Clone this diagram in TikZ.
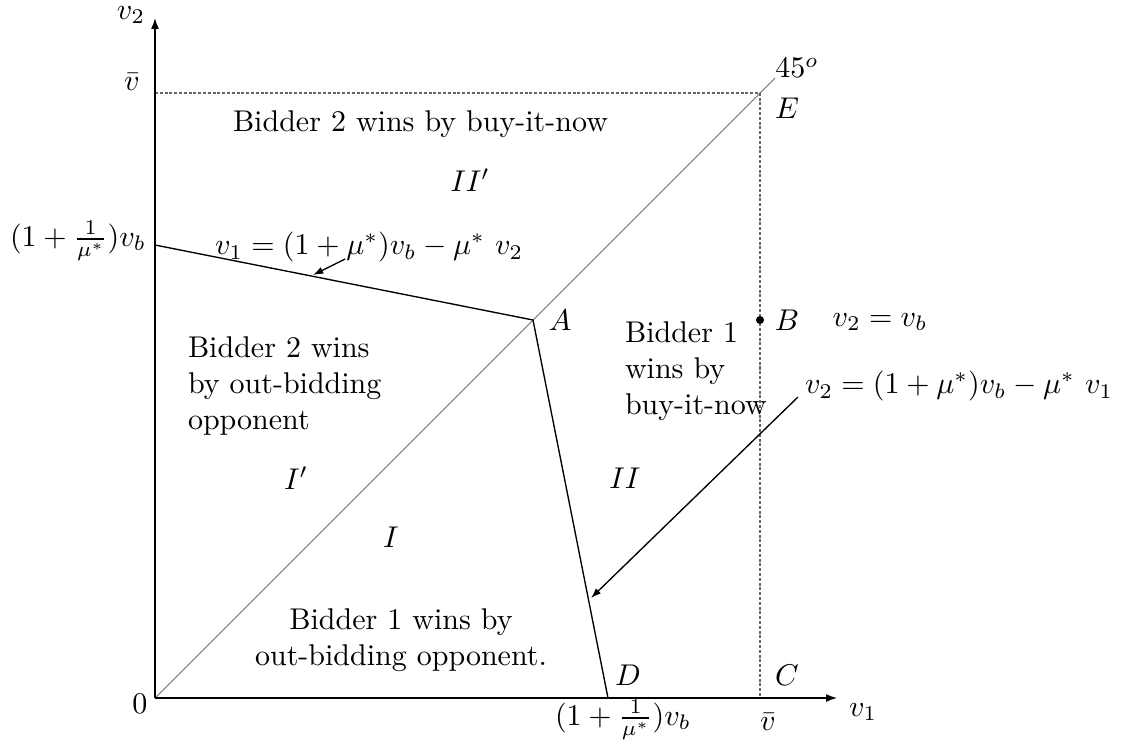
\documentclass[tikz,border=0pt]{standalone}
\usetikzlibrary{arrows.meta}
\begin{document}
\begin{tikzpicture}[x=0.3333pt,y=0.3333pt,
  axisline/.style={line width=0.45pt,-{Latex[length=3.6pt,width=2.6pt]}},
  boundary/.style={line width=0.45pt},
  diag/.style={line width=0.35pt,gray},
  guide/.style={line width=0.35pt,gray!80!black,dash pattern=on 1pt off 0.6pt},
  pointer/.style={line width=0.45pt,-{Latex[length=3.4pt,width=2.4pt]}},
  lbl/.style={inner sep=0pt,outer sep=0pt},
  region/.style={inner sep=0pt,outer sep=0pt,align=left}]
\useasboundingbox (-155,-51) rectangle (981,698);
% geometric points
\coordinate (O) at (0,0);
\coordinate (Xend) at (682,0);
\coordinate (Yend) at (0,680);
\coordinate (E) at (605,605);
\coordinate (Vtop) at (0,605);
\coordinate (C) at (605,0);
\coordinate (Dend) at (620,620);
\coordinate (L) at (0,453);
\coordinate (A) at (378,378);
\coordinate (D) at (453,0);
\coordinate (B) at (605,378);
% lines
\draw[diag] (O) -- (Dend);
\draw[guide] (Vtop) -- (E) -- (C);
\draw[boundary] (L) -- (A) -- (D);
\draw[axisline] (O) -- (Xend);
\draw[axisline] (O) -- (Yend);
\fill (B) circle (4);
% axis labels
\node[lbl] (v2lab) at (-24,683) {$v_2$};
\node[lbl] (v1lab) at (708,-14) {$v_1$};
\node[lbl] (vbarL) at (-23,616) {$\bar v$};
\node[lbl] (vbarB) at (613,-24) {$\bar v$};
\node[lbl] (zero) at (-15,-6) {$0$};
\node[lbl,anchor=east] (DL) at (-9,457) {$(1+\frac{1}{\mu^*})v_b$};
\node[lbl] (DB) at (468,-22) {$(1+\frac{1}{\mu^*})v_b$};
\node[lbl] (deg) at (642,630) {$45^o$};
% point labels
\node[lbl] (Elab) at (632,590) {$E$};
\node[lbl] (Alab) at (405,378) {$A$};
\node[lbl] (Blab) at (632,378) {$B$};
\node[lbl] (Clab) at (632,23) {$C$};
\node[lbl] (Dlab) at (473,23) {$D$};
\node[lbl] (vbeq) at (725,376) {$v_2 = v_b$};
% region labels
\node[lbl,anchor=west] (top) at (78,574) {Bidder 2 wins by buy-it-now};
\node[lbl] (IIp) at (315,518) {$II'$};
\node[lbl] (Ip) at (141,220) {$I'$};
\node[lbl] (I) at (236,161) {$I$};
\node[lbl] (II) at (470,220) {$II$};
\node[region,anchor=north west] (b2) at (33,361) {Bidder 2 wins\\by out-bidding\\opponent};
\node[region,anchor=north west] (b1) at (470,376) {Bidder 1\\wins by\\buy-it-now};
\node[region,align=center] (b1o) at (246,58) {Bidder 1 wins by\\out-bidding opponent.};
% formulas with pointers
\node[lbl,anchor=west] (f1) at (60,451) {$v_1 = (1+\mu^*)v_b - \mu^*\ v_2$};
\node[lbl,anchor=west] (f2) at (650,312) {$v_2 = (1+\mu^*)v_b - \mu^*\ v_1$};
\coordinate (f1s) at (190,439);
\coordinate (f1e) at (158,423);
\coordinate (f2s) at (643,301);
\coordinate (f2e) at (436,100);
\draw[pointer] (f1s) -- (f1e);
\draw[pointer] (f2s) -- (f2e);
\end{tikzpicture}
\end{document}
